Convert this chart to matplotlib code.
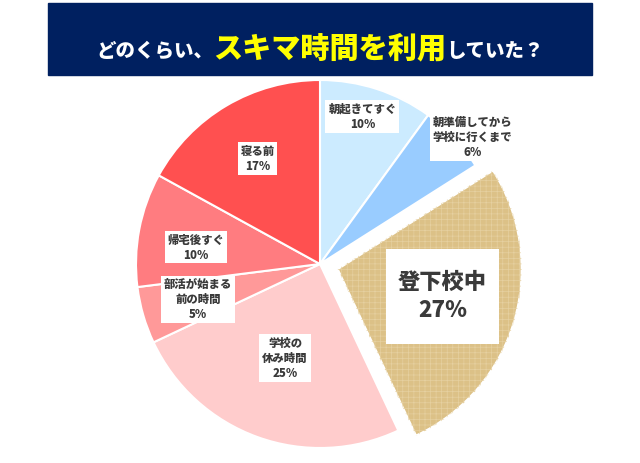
import numpy as np
import matplotlib
matplotlib.use("Agg")
import matplotlib.pyplot as plt
from matplotlib.patches import Rectangle, Wedge

plt.rcParams["font.family"] = ["Noto Sans CJK JP", "DejaVu Sans"]
plt.rcParams["hatch.linewidth"] = 0.5

# データ
labels = ["朝起きてすぐ", "朝準備してから\n学校に行くまで", "登下校中",
          "学校の\n休み時間", "部活が始まる\n前の時間", "帰宅後すぐ", "寝る前"]
values = [10, 6, 27, 25, 5, 10, 17]
colors = ["#CCEBFF", "#99CCFF", "#DCC187", "#FFCCCC", "#FF9999", "#FF7C80", "#FF5050"]
explode = [0, 0, 0.1, 0, 0, 0, 0]

# ラベル位置 (半径, 角度ずれ)
label_r = [0.835, 1.08, 0.59, 0.545, 0.69, 0.68, 0.667]
label_dang = [2, -3.4, 1.5, -0.6, 0, 3, 0]
label_size = [8.2, 8.2, 16, 8.2, 8.2, 8.2, 8.2]

title_parts = [("どのくらい、", "white", 14), ("スキマ時間を利用", "#FFFF00", 21),
               ("していた？", "white", 14)]

W, H = 640, 463
fig = plt.figure(figsize=(W / 100, H / 100), dpi=100)

# タイトル帯
fig.patches.append(Rectangle((48 / W, 1 - 75 / H), 544 / W, 72 / H,
                             transform=fig.transFigure, color="#002060", zorder=0))

# 円グラフ
cx, cy, rad, lim = 320, H - 264, 184, 1.2
half = rad * lim
ax = fig.add_axes([(cx - half) / W, (cy - half) / H, 2 * half / W, 2 * half / H])

wedges, _ = ax.pie(values, colors=colors, explode=explode, startangle=90,
                   counterclock=False, radius=1,
                   wedgeprops=dict(edgecolor="white", linewidth=1.5))
ax.set_xlim(-lim, lim)
ax.set_ylim(-lim, lim)
ax.set_aspect("equal")
ax.axis("off")

# 登下校中の布目模様
w = wedges[2]
ax.add_patch(Wedge(w.center, w.r, w.theta1, w.theta2, facecolor="none",
                   edgecolor="#E6D0A0", hatch="+++", linewidth=0, zorder=3))

for i, w in enumerate(wedges):
    ang = np.deg2rad((w.theta1 + w.theta2) / 2 + label_dang[i])
    x = w.center[0] + label_r[i] * np.cos(ang)
    y = w.center[1] + label_r[i] * np.sin(ang)
    if i == 2:
        # 大きい白枠
        bw, bh = 113 / rad, 95 / rad
        ax.add_patch(Rectangle((x - bw / 2, y - bh / 2), bw, bh,
                               facecolor="white", edgecolor="none", zorder=4))
        ax.text(x, y, f"{labels[i]}\n{values[i]}%", ha="center", va="center",
                fontsize=label_size[i], fontweight="black", color="#3A3A3A",
                linespacing=1.3, zorder=5)
    else:
        ax.text(x, y, f"{labels[i]}\n{values[i]}%", ha="center", va="center",
                fontsize=label_size[i], fontweight="black", color="#3A3A3A",
                linespacing=1.3, zorder=5,
                bbox=dict(boxstyle="square,pad=0.25", facecolor="white",
                          edgecolor="none"))

# タイトル文字
fig.canvas.draw()
rend = fig.canvas.get_renderer()
texts = []
for s, c, fs in title_parts:
    t = fig.text(0, 1 - 57 / H, s, color=c, fontsize=fs, fontweight="black",
                 ha="left", va="baseline")
    texts.append(t)
widths = [t.get_window_extent(rend).width for t in texts]
x0 = 320 - sum(widths) / 2
for t, wd in zip(texts, widths):
    t.set_x(x0 / W)
    x0 += wd

fig.savefig("out.png", dpi=100)
